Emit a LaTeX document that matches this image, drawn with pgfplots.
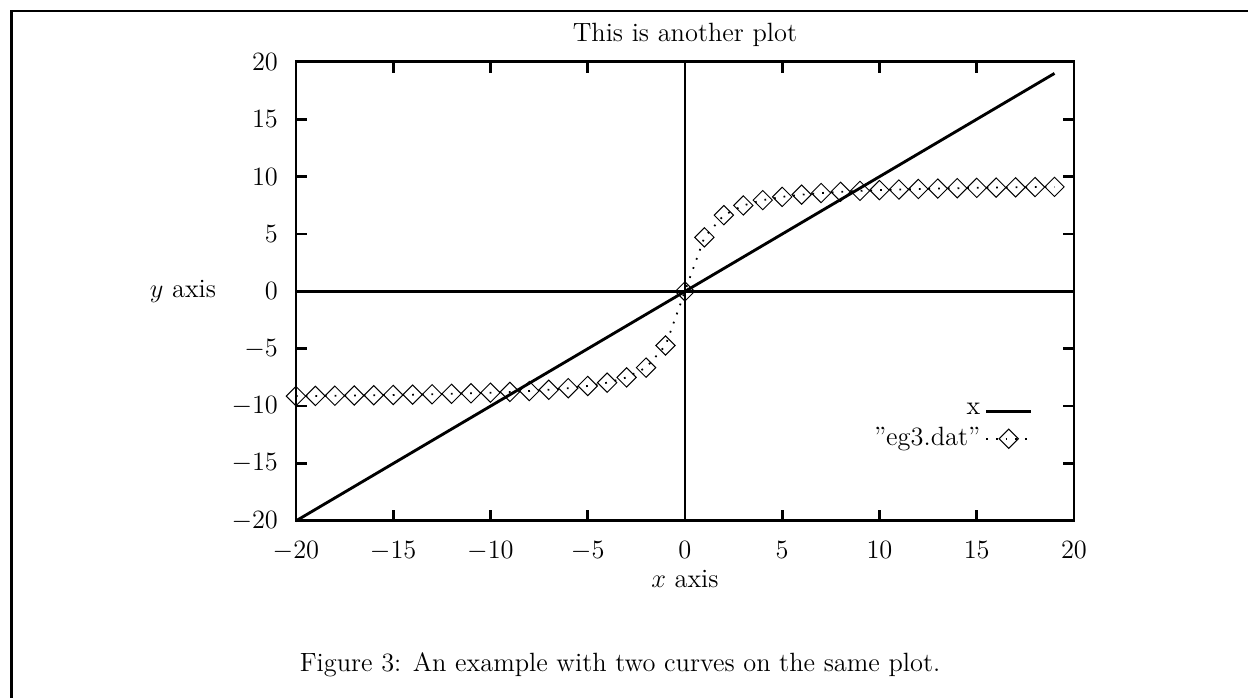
\documentclass[12pt,border=0pt]{standalone}
\usepackage{pgfplots}
\pgfplotsset{compat=1.18}

\pgfplotstableread{
x y
-20 -9.125
-19 -9.109
-18 -9.092
-17 -9.072
-16 -9.050
-15 -9.025
-14 -8.997
-13 -8.964
-12 -8.926
-11 -8.881
-10 -8.827
-9 -8.761
-8 -8.679
-7 -8.573
-6 -8.434
-5 -8.240
-4 -7.955
-3 -7.494
-2 -6.643
-1 -4.712
0 0
1 4.712
2 6.643
3 7.494
4 7.955
5 8.240
6 8.434
7 8.573
8 8.679
9 8.761
10 8.827
11 8.881
12 8.926
13 8.964
14 8.997
15 9.025
16 9.050
17 9.072
18 9.092
19 9.109
}\egthree

\begin{document}
\begin{tikzpicture}
\useasboundingbox (0,0) rectangle (567.2pt,317.2pt);
% page frame and caption, in pixel units (y down)
\begin{scope}[x=0.4545pt, y=-0.4545pt, shift={(0pt,317.2pt)}]
\draw[line width=1.3pt] (11.7,698) -- (11.7,11) -- (1248,11);
\node[anchor=base, inner sep=0pt] at (620,671) {Figure 3: An example with two curves on the same plot.};
\end{scope}

\begin{axis}[
    at={(134.5pt,80.45pt)}, anchor=south west,
    scale only axis,
    width=353.6pt, height=208.6pt,
    xmin=-20, xmax=20, ymin=-20, ymax=20,
    xtick={-20,-15,...,20}, ytick={-20,-15,...,20},
    tick align=inside,
    major tick length=5pt,
    major tick style={black, line width=1.2pt},
    axis line style={line width=1.3pt},
    xticklabel style={yshift=-5pt},
    yticklabel style={xshift=-4pt},
    title={This is another plot},
    xlabel={$x$ axis},
    ylabel={$y$ axis},
    every axis title/.style={at={(axis description cs:0.5,1.0436)}, anchor=base},
    every axis x label/.style={at={(axis description cs:0.5,-0.146)}, anchor=base},
    every axis y label/.style={at={(axis description cs:-0.1452,0.486)}, anchor=base},
    legend style={draw=none, fill=none, at={(axis description cs:0.956,0.276)}, anchor=north east},
    legend cell align=right,
    legend plot pos=right,
    legend image code/.code={\draw[mark repeat=2, mark phase=2, #1]
        plot coordinates {(0cm,0cm) (0.36cm,0cm) (0.72cm,0cm)};},
    clip=false,
]
\draw[line width=1.3pt] (axis cs:0,-20) -- (axis cs:0,20);
\draw[line width=1.1pt] (axis cs:-20,0) -- (axis cs:20,0);

\addplot[black, line width=1.3pt, mark=none] coordinates {(-20,-20) (19,19)};
\addlegendentry{x}
\addplot[black, line width=0.8pt, dash pattern=on 0.8pt off 3.6pt,
    mark=square, mark size=3.1pt,
    mark options={solid, line width=0.45pt, rotate=45}] table {\egthree};
\addlegendentry{''eg3.dat''}
\end{axis}
\end{tikzpicture}
\end{document}
